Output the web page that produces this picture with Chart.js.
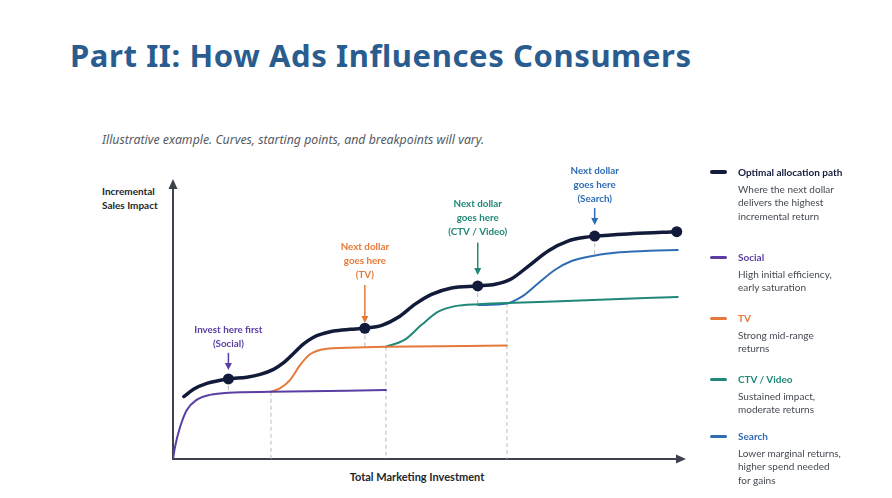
<!DOCTYPE html>
<html>
<head>
<meta charset="utf-8">
<script src="https://cdn.jsdelivr.net/npm/chart.js@4.4.1/dist/chart.umd.min.js"></script>
<style>
  html, body { margin: 0; padding: 0; background: #fff; }
  body { width: 892px; height: 498px; position: relative; overflow: hidden; font-family: Lato, sans-serif; }
  #chart { position: absolute; left: 0; top: 0; }
  .title { position: absolute; left: 70px; top: 40px; font: bold 31px/31px "Noto Sans", sans-serif; letter-spacing: 0.6px; color: #2a5d8f; white-space: nowrap; }
  .subtitle { position: absolute; left: 102px; top: 132px; font: italic 12.3px/15px "Noto Sans", sans-serif; color: #555a63; white-space: nowrap; }
  .ylabel { position: absolute; left: 102px; top: 184px; font: bold 10px/14px Lato, sans-serif; color: #23262d; }
  .xlabel { position: absolute; left: 317px; width: 200px; top: 470px; text-align: center; font: bold 11px/14px Lato, sans-serif; color: #23262d; }
  .legend-item { position: absolute; left: 710px; width: 180px; }
  .legend-item .swatch { position: absolute; left: 0; width: 17px; border-radius: 2px; }
  .legend-item .name { position: absolute; left: 28px; top: 0; font: bold 10px/12px Lato, sans-serif; white-space: nowrap; }
  .legend-item .note { position: absolute; left: 28px; top: 17px; font: 10px/13.4px Lato, sans-serif; color: #454a53; white-space: nowrap; }
</style>
</head>
<body>
<div class="title">Part II: How Ads Influences Consumers</div>
<div class="subtitle">Illustrative example. Curves, starting points, and breakpoints will vary.</div>
<div class="ylabel">Incremental<br>Sales Impact</div>
<div class="xlabel">Total Marketing Investment</div>
<canvas id="chart" width="892" height="498"></canvas>
<div id="legend"></div>

<script>
// values (x: investment 0-100, y: impact 0-100)
const optimalX = [2.1, 4.0, 6.6, 10.8, 14.4, 17.0, 19.6, 21.5, 23.5, 25.4, 27.4, 29.5, 31.3, 34.5, 37.4, 40.7, 43.9, 47.2, 50.4, 54.3, 59.4, 62.8, 66.0, 69.3, 73.2, 77.1, 80.0, 82.2, 89.7, 98.2];
const optimalY = [22.3, 24.9, 27.0, 28.6, 29.2, 30.2, 32.0, 34.3, 37.7, 41.0, 43.5, 44.9, 45.7, 46.3, 46.7, 47.7, 50.6, 55.3, 58.8, 61.1, 61.8, 62.4, 64.4, 68.9, 74.4, 77.9, 79.1, 79.6, 80.5, 81.2];

const socialX = [0, 0.4, 1.4, 2.7, 4.6, 7.2, 10.8, 19.1, 41.5];
const socialY = [0, 4.4, 11.5, 17.5, 21.1, 22.9, 23.7, 24.0, 24.6];

const tvX = [19.1, 20.9, 22.8, 24.8, 26.7, 30.0, 37.4, 41.5, 65.1];
const tvY = [24.0, 25.3, 28.2, 33.6, 37.4, 39.4, 39.9, 40.1, 40.5];

const ctvX = [41.5, 45.2, 48.5, 51.7, 55.0, 59.5, 65.1, 79.3, 98.4];
const ctvY = [40.1, 42.6, 48.0, 52.6, 54.6, 55.3, 55.7, 56.6, 57.9];

const searchX = [59.5, 64.7, 68.0, 71.2, 74.5, 77.7, 82.3, 87.1, 92.9, 98.4];
const searchY = [55.0, 55.4, 58.0, 62.8, 67.6, 70.7, 72.7, 73.8, 74.4, 74.6];

// allocation points on the optimal path
const dotX = [10.8, 37.4, 59.4, 82.2, 98.2];
const dotY = [28.6, 46.7, 61.8, 79.6, 81.2];

// dashed guides: x, top, bottom
const guideX = [10.8, 37.4, 59.4, 82.2, 19.1, 41.5, 65.1];
const guideTop = [28.6, 46.7, 61.8, 79.6, 24.0, 40.1, 55.7];
const guideBottom = [23.7, 39.9, 55.0, 72.7, 0, 0, 0];

const legendNames = ['Optimal allocation path', 'Social', 'TV', 'CTV / Video', 'Search'];
const legendNotes = [
  ['Where the next dollar', 'delivers the highest', 'incremental return'],
  ['High initial efficiency,', 'early saturation'],
  ['Strong mid-range', 'returns'],
  ['Sustained impact,', 'moderate returns'],
  ['Lower marginal returns,', 'higher spend needed', 'for gains']
];

const NAVY = '#131b3b';
const PURPLE = '#5a3ea4';
const ORANGE = '#e5793b';
const TEAL = '#1f8878';
const BLUE = '#2f6cb4';
const AXIS = '#3d424e';
const GUIDE = '#b7bbc3';
const colors = [NAVY, PURPLE, ORANGE, TEAL, BLUE];

// callouts above each allocation point
const callouts = [
  { lines: ['Invest here first', '(Social)'], color: PURPLE, x: 10.8, textY: 46.1, from: 37.9, to: 31.8 },
  { lines: ['Next dollar', 'goes here', '(TV)'], color: ORANGE, x: 37.4, textY: 75.8, from: 62.1, to: 48.6 },
  { lines: ['Next dollar', 'goes here', '(CTV / Video)'], color: TEAL, x: 59.4, textY: 91.0, from: 77.3, to: 65.7 },
  { lines: ['Next dollar', 'goes here', '(Search)'], color: BLUE, x: 82.2, textY: 102.9, from: 89.6, to: 83.6 }
];

const pts = (xs, ys) => xs.map((x, i) => ({ x: x, y: ys[i] }));

const curve = (label, xs, ys, color, width) => ({
  label: label,
  data: pts(xs, ys),
  borderColor: color,
  borderWidth: width,
  pointRadius: 0,
  fill: false,
  cubicInterpolationMode: 'monotone',
  borderCapStyle: 'round'
});

const datasets = [
  {
    label: 'points',
    data: pts(dotX, dotY),
    showLine: false,
    pointRadius: 5.5,
    pointBackgroundColor: NAVY,
    pointBorderColor: NAVY,
    pointBorderWidth: 0
  },
  curve('Optimal allocation path', optimalX, optimalY, NAVY, 3.5),
  curve('Social', socialX, socialY, PURPLE, 2),
  curve('TV', tvX, tvY, ORANGE, 2),
  curve('CTV / Video', ctvX, ctvY, TEAL, 2),
  curve('Search', searchX, searchY, BLUE, 2)
];

guideX.forEach((x, i) => {
  datasets.push({
    label: 'guide' + i,
    data: [{ x: x, y: guideTop[i] }, { x: x, y: guideBottom[i] }],
    borderColor: GUIDE,
    borderWidth: 1,
    borderDash: [4, 3],
    pointRadius: 0
  });
});

const extras = {
  id: 'extras',
  beforeDatasetsDraw(chart) {
    const { ctx, chartArea: a } = chart;
    ctx.save();
    ctx.strokeStyle = AXIS;
    ctx.fillStyle = AXIS;
    ctx.lineWidth = 2;
    ctx.beginPath();
    ctx.moveTo(a.left, a.top + 6);
    ctx.lineTo(a.left, a.bottom);
    ctx.lineTo(a.right - 6, a.bottom);
    ctx.stroke();
    ctx.beginPath();
    ctx.moveTo(a.left, a.top);
    ctx.lineTo(a.left - 4.5, a.top + 10);
    ctx.lineTo(a.left + 4.5, a.top + 10);
    ctx.closePath();
    ctx.fill();
    ctx.beginPath();
    ctx.moveTo(a.right, a.bottom);
    ctx.lineTo(a.right - 10, a.bottom - 4.5);
    ctx.lineTo(a.right - 10, a.bottom + 4.5);
    ctx.closePath();
    ctx.fill();
    ctx.restore();
  },
  afterDatasetsDraw(chart) {
    const { ctx, scales: { x, y } } = chart;
    ctx.save();
    ctx.textAlign = 'center';
    ctx.textBaseline = 'middle';
    ctx.font = 'bold 9.8px Lato, sans-serif';
    callouts.forEach(c => {
      const px = x.getPixelForValue(c.x);
      const ty = y.getPixelForValue(c.textY);
      ctx.fillStyle = c.color;
      c.lines.forEach((t, i) => ctx.fillText(t, px, ty + i * 13.8));
      const y0 = y.getPixelForValue(c.from);
      const y1 = y.getPixelForValue(c.to);
      ctx.strokeStyle = c.color;
      ctx.lineWidth = 1.5;
      ctx.beginPath();
      ctx.moveTo(px, y0);
      ctx.lineTo(px, y1 - 5);
      ctx.stroke();
      ctx.beginPath();
      ctx.moveTo(px, y1);
      ctx.lineTo(px - 3.5, y1 - 7);
      ctx.lineTo(px + 3.5, y1 - 7);
      ctx.closePath();
      ctx.fill();
    });
    ctx.restore();
  }
};

new Chart(document.getElementById('chart'), {
  type: 'line',
  data: { datasets: datasets },
  options: {
    responsive: false,
    animation: false,
    layout: { autoPadding: false, padding: { left: 173, top: 179, right: 206, bottom: 39 } },
    scales: {
      x: { type: 'linear', min: 0, max: 100, display: false },
      y: { type: 'linear', min: 0, max: 100, display: false }
    },
    plugins: { legend: { display: false }, tooltip: { enabled: false } }
  },
  plugins: [extras]
});

// legend on the right
const legendTops = [166, 251, 312, 373, 430];
const legendEl = document.getElementById('legend');
legendNames.forEach((name, i) => {
  const item = document.createElement('div');
  item.className = 'legend-item';
  item.style.top = legendTops[i] + 'px';
  const h = i === 0 ? 4 : 3;
  item.innerHTML =
    '<div class="swatch" style="top:' + (6 - h / 2) + 'px;height:' + h + 'px;background:' + colors[i] + '"></div>' +
    '<div class="name" style="color:' + colors[i] + '">' + name + '</div>' +
    '<div class="note">' + legendNotes[i].join('<br>') + '</div>';
  legendEl.appendChild(item);
});
</script>
</body>
</html>
